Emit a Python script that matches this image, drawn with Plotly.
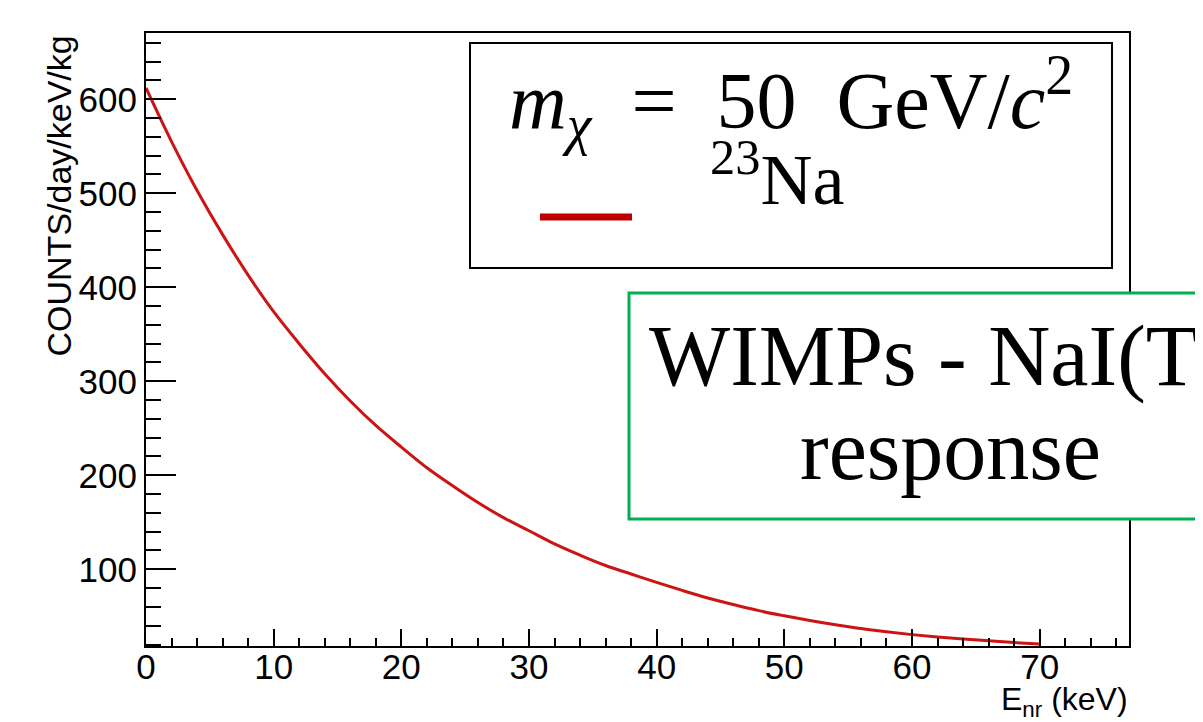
import plotly.graph_objects as go

# Data
energy_kev = [0, 2, 4, 6, 8, 10, 12, 14, 16, 18, 20, 22, 24, 26, 28, 30, 32, 34,
              36, 38, 40, 42, 44, 46, 48, 50, 52, 54, 56, 58, 60, 62, 64, 66, 68, 70]
counts_na23 = [612, 555, 503, 456, 413, 374, 340, 308, 279, 253, 230, 208, 189, 171,
               155, 141, 127, 115, 104, 95, 86, 77.5, 69.5, 62.5, 56, 50.5, 45.5, 41,
               37, 33.5, 30.5, 28, 25.8, 23.9, 22.1, 20.5]

x_ticks = [0, 10, 20, 30, 40, 50, 60, 70]
y_ticks = [100, 200, 300, 400, 500, 600]

# page body has an 8px margin; figure sized to fit the window
OFF = 8
W, H = 1203 - OFF, 722 - OFF
FL, FR, FT, FB = 146, 1129, 33, 646      # frame edges in window pixels
PW, PH = FR - FL, FB - FT
ML, MT = FL - OFF, FT - OFF
MR, MB = W - ML - PW, H - MT - PH


def px(x):
    return (x - FL) / PW


def py(y):
    return (FB - y) / PH


fig = go.Figure()
fig.add_trace(go.Scatter(
    x=energy_kev, y=counts_na23, mode="lines",
    line=dict(color="#cc1414", width=3, shape="spline"),
    showlegend=False,
))

axis_common = dict(
    showline=True, linecolor="black", linewidth=2, mirror=True,
    showgrid=False, zeroline=False, ticks="inside", tickcolor="black",
    tickwidth=2, tickfont=dict(family="Liberation Sans, Arial", size=35, color="black"),
)

fig.update_xaxes(range=[0, 77], tickvals=x_ticks, ticklen=17,
                 minor=dict(dtick=2, ticks="inside", ticklen=8, tickwidth=2, tickcolor="black", showgrid=False),
                 ticklabelstandoff=-11, **axis_common)
fig.update_yaxes(range=[18.4, 670.5], tickvals=y_ticks, ticklen=30,
                 minor=dict(dtick=20, ticks="inside", ticklen=15, tickwidth=2, tickcolor="black", showgrid=False),
                 ticklabelstandoff=0, **axis_common)

shapes = [
    # legend box
    dict(type="rect", xref="paper", yref="paper", x0=px(470), x1=px(1112), y0=py(268), y1=py(43),
         line=dict(color="black", width=2), fillcolor="white", layer="above"),
    # legend line sample
    dict(type="line", xref="paper", yref="paper", x0=px(540), x1=px(632), y0=py(217), y1=py(217),
         line=dict(color="#c00000", width=7), layer="above"),
    # green box
    dict(type="rect", xref="paper", yref="paper", x0=px(629), x1=px(1275), y0=py(519), y1=py(293),
         line=dict(color="#00b050", width=3), fillcolor="white", layer="above"),
]

serif = "Liberation Serif, Times New Roman, serif"
annotations = [
    dict(text="COUNTS/day/keV/kg", xref="paper", yref="paper", x=px(58), y=py(34),
         xanchor="center", yanchor="top", textangle=-90, showarrow=False,
         font=dict(family="Liberation Sans, Arial", size=34, color="black")),
    dict(text="E<sub>nr</sub> (keV)", xref="paper", yref="paper", x=px(1130), y=py(701),
         xanchor="right", yanchor="middle", showarrow=False,
         font=dict(family="Liberation Sans, Arial", size=32, color="black")),
    dict(text="<i>m</i><sub><i>χ</i></sub>&nbsp; = &nbsp;50&nbsp; GeV/<i>c</i><sup>2</sup>",
         xref="paper", yref="paper",
         x=px(791), y=py(100), xanchor="center", yanchor="middle", showarrow=False,
         font=dict(family=serif, size=80, color="black")),
    dict(text="<sup>23</sup>Na", xref="paper", yref="paper",
         x=px(777), y=py(174), xanchor="center", yanchor="middle", showarrow=False,
         font=dict(family=serif, size=72, color="black")),
    dict(text="WIMPs - NaI(Tl)", xref="paper", yref="paper",
         x=px(950), y=py(356), xanchor="center", yanchor="middle", showarrow=False,
         font=dict(family=serif, size=86, color="black")),
    dict(text="response", xref="paper", yref="paper",
         x=px(950), y=py(450), xanchor="center", yanchor="middle", showarrow=False,
         font=dict(family=serif, size=86, color="black")),
]

fig.update_layout(
    width=W, height=H,
    margin=dict(l=ML, r=MR, t=MT, b=MB, pad=0),
    paper_bgcolor="white", plot_bgcolor="white",
    shapes=shapes, annotations=annotations, showlegend=False,
)

fig.write_html("out.html")
